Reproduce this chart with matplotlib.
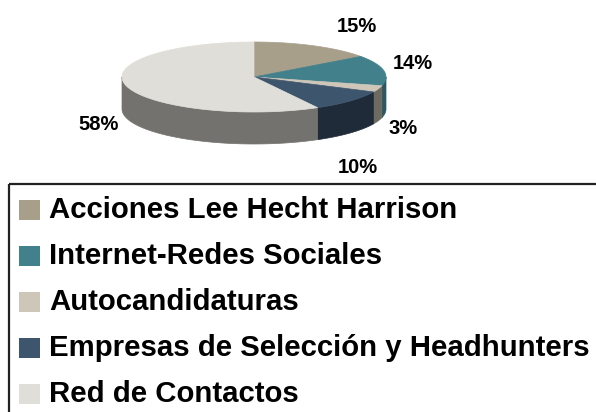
import numpy as np
import matplotlib
matplotlib.use("Agg")
import matplotlib.pyplot as plt
from matplotlib.patches import Polygon, Rectangle

plt.rcParams['font.family'] = ['Liberation Sans', 'DejaVu Sans']

categories = ["Acciones Lee Hecht Harrison", "Internet-Redes Sociales", "Autocandidaturas",
              "Empresas de Selección y Headhunters", "Red de Contactos"]
values = [15, 14, 3, 10, 58]
labels = ["15%", "14%", "3%", "10%", "58%"]
top_colors = ["#A89F8B", "#42808C", "#CEC7B9", "#3E556E", "#E0DED8"]
side_colors = ["#6F695C", "#2D5862", "#6D6A62", "#1F2B38", "#73726E"]

W, H = 596, 412
fig = plt.figure(figsize=(W / 100, H / 100), dpi=100)
ax = fig.add_axes([0, 0, 1, 1])
ax.set_xlim(0, W)
ax.set_ylim(H, 0)
ax.axis("off")

cx, cy, a, b, depth = 254, 77, 132, 35, 32

fr = np.array(values, float) / sum(values)
ends = np.cumsum(fr) * 360
starts = ends - fr * 360

def pt(th, dy=0.0):
    t = np.radians(th)
    return cx + a * np.sin(t), cy - b * np.cos(t) + dy

# side walls (front half: 90..270 deg)
for s, e, sc in zip(starts, ends, side_colors):
    lo, hi = max(s, 90), min(e, 270)
    if hi <= lo:
        continue
    th = np.linspace(lo, hi, 80)
    xs, ys = pt(th)
    top = np.column_stack([xs, ys])
    bot = np.column_stack([xs, ys + depth])[::-1]
    ax.add_patch(Polygon(np.vstack([top, bot]), closed=True, facecolor=sc,
                         edgecolor=sc, linewidth=0.5))

# top faces
for s, e, tc in zip(starts, ends, top_colors):
    th = np.linspace(s, e, 120)
    xs, ys = pt(th)
    poly = np.vstack([[cx, cy], np.column_stack([xs, ys])])
    ax.add_patch(Polygon(poly, closed=True, facecolor=tc, edgecolor=tc, linewidth=0.5))

# percentage labels
label_pos = [(357, 26), (413, 63), (403, 129), (358, 167), (99, 124)]
for (x, y), lab in zip(label_pos, labels):
    ax.text(x, y, lab, ha="center", va="center", fontsize=14.5, fontweight="bold", color="black")

# legend box
ax.add_patch(Rectangle((9, 184), 620, 260, fill=False, edgecolor="#222222", linewidth=1.6))
row_base = [218, 264, 310, 356, 402]
for yy, cat, col in zip(row_base, categories, top_colors):
    ax.add_patch(Rectangle((19, yy - 18), 21, 20, facecolor=col, edgecolor="none"))
    ax.text(49, yy, cat, ha="left", va="baseline", fontsize=21.2, fontweight="bold", color="black")

fig.savefig("out.png", dpi=100)
